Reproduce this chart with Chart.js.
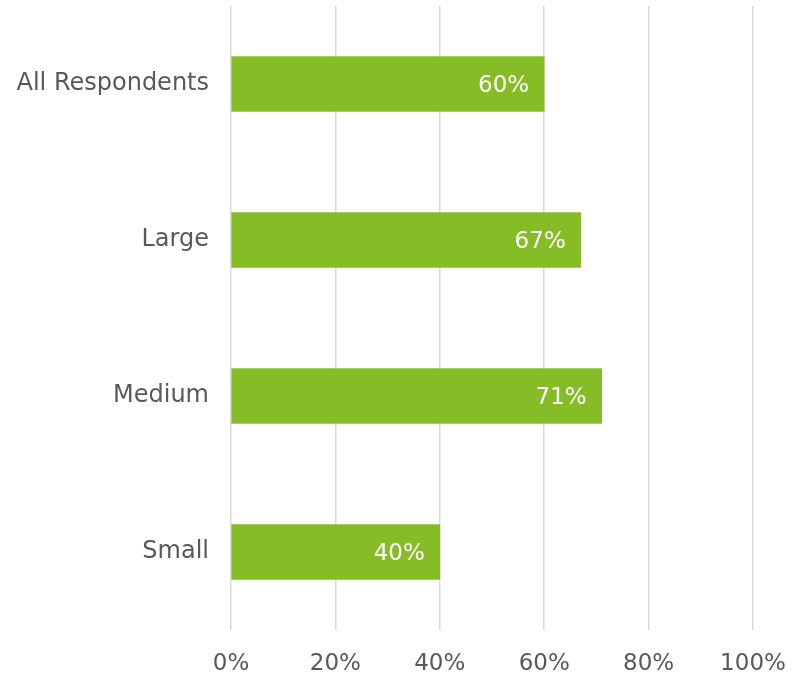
<!DOCTYPE html>
<html>
<head>
<meta charset="utf-8">
<script src="https://cdn.jsdelivr.net/npm/chart.js@4/dist/chart.umd.min.js"></script>
<style>
  html, body { margin: 0; padding: 0; background: #fff; }
  #wrap { width: 792px; height: 673px; position: relative; }
</style>
</head>
<body>
<div id="wrap"><canvas id="barChart"></canvas></div>
<script>
// groups and their share (%)
const groups = ["All Respondents", "Large", "Medium", "Small"];
const shares = [60, 67, 71, 40];
const tickSteps = [0, 20, 40, 60, 80, 100];

const FONT = "'DejaVu Sans', Verdana, sans-serif";

// white % labels drawn inside the end of each bar
const barLabels = {
  id: "barLabels",
  afterDatasetsDraw(chart) {
    const ctx = chart.ctx;
    const meta = chart.getDatasetMeta(0);
    ctx.save();
    ctx.fillStyle = "#ffffff";
    ctx.font = "23px " + FONT;
    ctx.textAlign = "right";
    ctx.textBaseline = "middle";
    meta.data.forEach((bar, i) => {
      ctx.fillText(shares[i] + "%", bar.x - 15, bar.y + 2);
    });
    ctx.restore();
  },
};

new Chart(document.getElementById("barChart").getContext("2d"), {
  type: "bar",
  data: {
    labels: groups,
    datasets: [{
      data: shares,
      backgroundColor: "#86bc25",
      borderWidth: 0,
      barThickness: 55,
    }],
  },
  options: {
    indexAxis: "y",
    responsive: true,
    maintainAspectRatio: false,
    animation: false,
    layout: { padding: { top: 6, left: 0, right: 0, bottom: 0 } },
    plugins: { legend: { display: false }, tooltip: { enabled: false } },
    scales: {
      x: {
        min: 0,
        max: 100,
        afterBuildTicks(axis) {
          axis.ticks = tickSteps.map((v) => ({ value: v }));
        },
        afterFit(axis) {
          axis.height = 43;
          axis.paddingLeft = 0;
          axis.paddingRight = 39;
        },
        border: { display: false },
        grid: { color: "#d9d9d9", lineWidth: 1.5, drawTicks: false },
        ticks: {
          color: "#595959",
          padding: 20,
          font: { family: FONT, size: 23 },
          callback: (v) => v + "%",
        },
      },
      y: {
        border: { display: false },
        grid: { display: false, drawTicks: false },
        afterFit(axis) {
          axis.width = 231;
          axis.paddingTop = 0;
          axis.paddingBottom = 0;
        },
        ticks: {
          color: "#595959",
          padding: 22,
          font: { family: FONT, size: 24 },
        },
      },
    },
  },
  plugins: [barLabels],
});
</script>
</body>
</html>
